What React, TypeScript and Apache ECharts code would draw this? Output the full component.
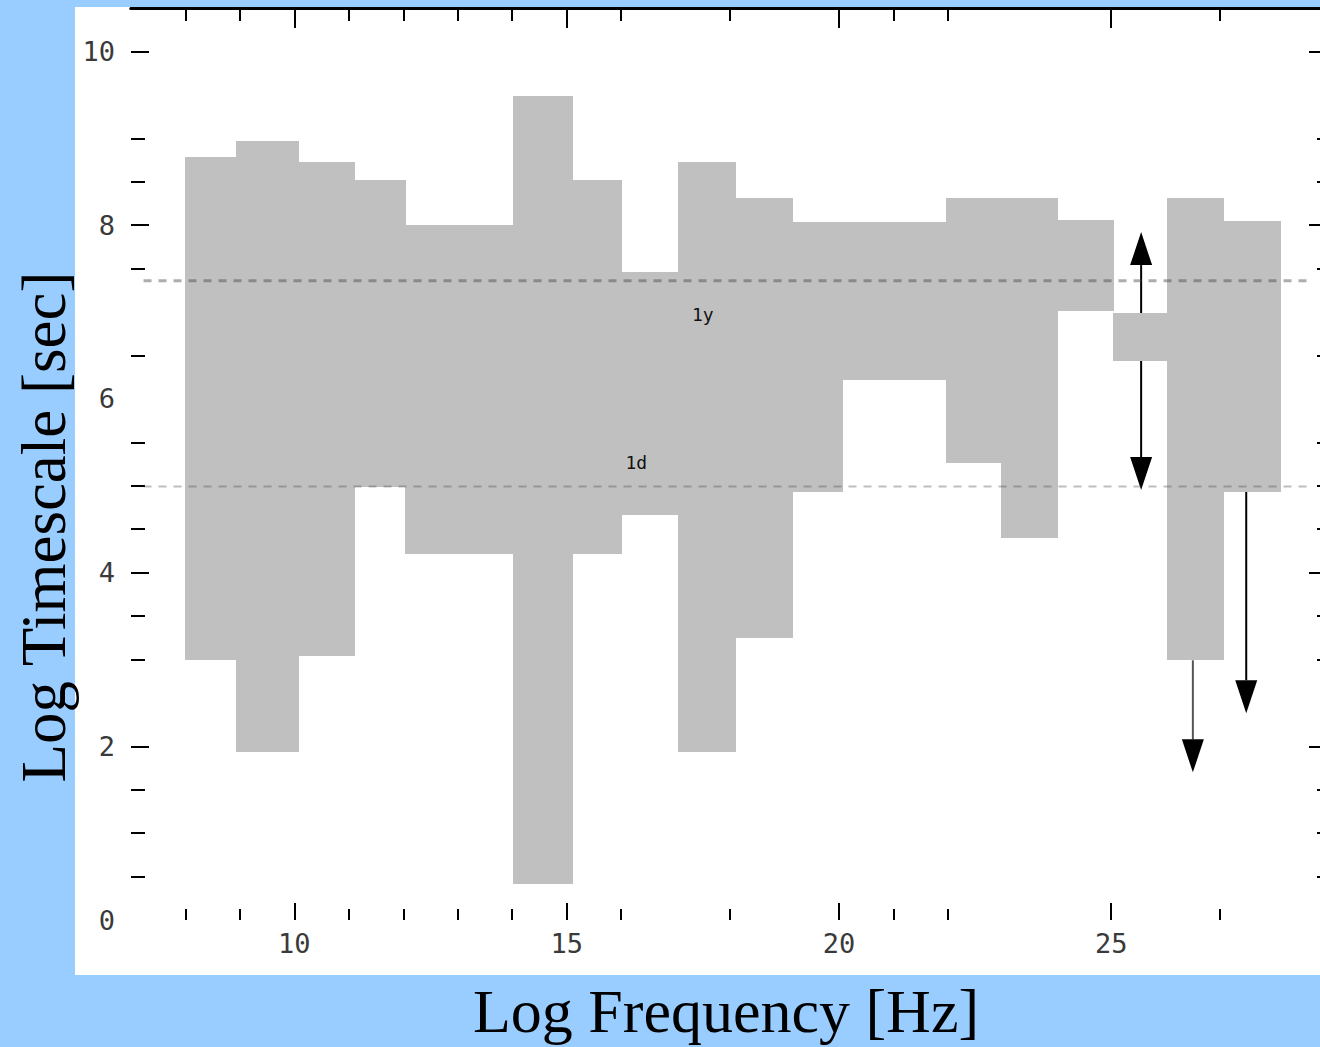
import React, { useEffect, useRef } from "react";
import * as echarts from "echarts";

// Band columns (log frequency extent and log timescale extent)
const colStart = [8.0, 8.92, 10.06, 11.1, 12.04, 14.02, 15.09, 16.0, 17.05, 18.1, 19.14, 20.06, 21.97, 22.98, 24.01, 25.04, 26.03, 27.06];
const colEnd = [8.92, 10.06, 11.1, 12.04, 14.02, 15.09, 16.0, 17.05, 18.1, 19.14, 20.06, 21.97, 22.98, 24.01, 25.04, 26.03, 27.06, 28.1];
const colLow = [2.99, 1.93, 3.04, 4.99, 4.21, 0.41, 4.21, 4.66, 1.93, 3.25, 4.93, 6.22, 5.26, 4.4, 7.01, 6.44, 2.99, 4.93];
const colHigh = [8.78, 8.97, 8.73, 8.52, 8.0, 9.49, 8.52, 7.46, 8.73, 8.31, 8.04, 8.04, 8.31, 8.31, 8.06, 6.99, 8.31, 8.05];

// Reference lines (1 year, 1 day)
const refValues = [7.36, 4.99];
const refFrom = [7.23, 7.23];
const refTo = [28.7, 28.7];
const refLabels = ["1y", "1d"];
const refLabelX = [17.5, 16.28];
const refLabelY = [6.97, 5.27];

// Arrows: x, start, end(tip), double-headed
const arrowX = [25.55, 26.5, 27.48];
const arrowFrom = [7.92, 2.99, 4.93];
const arrowTo = [4.95, 1.7, 2.38];
const arrowDouble = [1, 0, 0];

// Axis ticks / labels
const xMajor = [10, 15, 20, 25];
const xMinor = [8, 9, 11, 12, 13, 14, 16, 18, 21, 22, 27];
const yLabels = [0, 2, 4, 6, 8, 10];
const yMajor = [2, 4, 8, 10];
const yMinor = [0.5, 1, 1.5, 3, 3.5, 4.5, 5, 5.5, 6.5, 7.5, 8.5, 9];

const tickFont = { fontFamily: "DejaVu Sans Mono", fontSize: 27, color: "#3a3a3a" };

function xAxisDef(position: string, ticks: number[], len: number, showLabel: boolean, showLine: boolean) {
  return {
    type: "value",
    position,
    min: 7,
    max: 29,
    splitLine: { show: false },
    axisLine: { show: showLine, onZero: false, lineStyle: { color: "#000", width: 3 } },
    axisTick: { show: true, inside: true, length: len, customValues: ticks, lineStyle: { color: "#000", width: 2 } },
    axisLabel: showLabel ? { show: true, customValues: ticks, margin: 10, ...tickFont } : { show: false },
  };
}

function yAxisDef(position: string, ticks: number[], len: number, labels: number[] | null) {
  return {
    type: "value",
    position,
    min: 0,
    max: 10.5,
    splitLine: { show: false },
    axisLine: { show: false, onZero: false },
    axisTick: { show: true, inside: true, length: len, customValues: ticks, lineStyle: { color: "#000", width: 2 } },
    axisLabel: labels ? { show: true, customValues: labels, margin: 16, ...tickFont } : { show: false },
  };
}

export default function App() {
  const ref = useRef<HTMLDivElement>(null);

  useEffect(() => {
    document.body.style.margin = "0";
    document.body.style.overflow = "hidden";
    if (!ref.current) return;
    const chart = echarts.init(ref.current, null, { renderer: "svg" });

    const bandData = colStart.map((s, i) => [s, colEnd[i], colLow[i], colHigh[i]]);
    const refData = refValues.map((v, i) => [refFrom[i], refTo[i], v]);
    const labelData = refLabelX.map((x, i) => [x, refLabelY[i]]);
    const arrowData = arrowX.map((x, i) => [x, arrowFrom[i], arrowTo[i], arrowDouble[i]]);

    const option: any = {
      animation: false,
      backgroundColor: "#99ccff",
      grid: { left: 131, right: 11, top: 8, bottom: 127, containLabel: false },
      xAxis: [
        xAxisDef("bottom", xMajor, 17, true, false),
        xAxisDef("bottom", xMinor, 11, false, false),
        xAxisDef("top", xMajor, 20, false, true),
        xAxisDef("top", xMinor, 13, false, true),
      ],
      yAxis: [
        yAxisDef("left", yMajor, 18, yLabels),
        yAxisDef("left", yMinor, 14, null),
        yAxisDef("right", yMajor, 20, null),
        yAxisDef("right", yMinor, 12, null),
      ],
      graphic: [
        { type: "rect", z: -10, shape: { x: 75, y: 7, width: 1300, height: 968 }, style: { fill: "#ffffff" } },
        {
          type: "text",
          x: 726,
          y: 1011,
          style: { text: "Log Frequency [Hz]", font: "62px 'Liberation Serif'", fill: "#000", align: "center", verticalAlign: "middle" },
        },
        {
          type: "text",
          x: 44,
          y: 527,
          rotation: Math.PI / 2,
          style: { text: "Log Timescale [sec]", font: "63px 'Liberation Serif'", fill: "#000", align: "center", verticalAlign: "middle" },
        },
      ],
      series: [
        {
          type: "custom",
          name: "arrows",
          z: 1,
          clip: false,
          data: arrowData,
          encode: { x: 0, y: [1, 2] },
          renderItem: (params: any, api: any) => {
            const x = api.value(0);
            const p1 = api.coord([x, api.value(1)]);
            const p2 = api.coord([x, api.value(2)]);
            const dbl = api.value(3) === 1;
            const d = p2[1] > p1[1] ? 1 : -1;
            const hl = 33;
            const hw = 11;
            const color = params.dataIndex === 1 ? "#555" : "#000";
            const children: any[] = [
              {
                type: "line",
                shape: { x1: p1[0], y1: dbl ? p1[1] + d * hl : p1[1], x2: p2[0], y2: p2[1] - d * hl },
                style: { stroke: color, lineWidth: 2 },
              },
              {
                type: "polygon",
                shape: { points: [[p2[0], p2[1]], [p2[0] - hw, p2[1] - d * hl], [p2[0] + hw, p2[1] - d * hl]] },
                style: { fill: "#000" },
              },
            ];
            if (dbl) {
              children.push({
                type: "polygon",
                shape: { points: [[p1[0], p1[1]], [p1[0] - hw, p1[1] + d * hl], [p1[0] + hw, p1[1] + d * hl]] },
                style: { fill: "#000" },
              });
            }
            return { type: "group", children };
          },
        },
        {
          type: "custom",
          name: "bands",
          z: 2,
          data: bandData,
          encode: { x: [0, 1], y: [2, 3] },
          renderItem: (params: any, api: any) => {
            const a = api.coord([api.value(0), api.value(3)]);
            const b = api.coord([api.value(1), api.value(2)]);
            const x0 = Math.round(a[0]);
            const x1 = Math.round(b[0]);
            const y0 = Math.round(a[1]);
            const y1 = Math.round(b[1]);
            return {
              type: "rect",
              shape: { x: x0, y: y0, width: x1 - x0 + 1, height: y1 - y0 },
              style: { fill: "#c0c0c0" },
            };
          },
        },
        {
          type: "custom",
          name: "reference",
          z: 3,
          clip: false,
          data: refData,
          encode: { x: [0, 1], y: 2 },
          renderItem: (params: any, api: any) => {
            const a = api.coord([api.value(0), api.value(2)]);
            const b = api.coord([api.value(1), api.value(2)]);
            const upper = params.dataIndex === 0;
            return {
              type: "line",
              shape: { x1: a[0], y1: a[1], x2: b[0], y2: b[1] },
              style: {
                stroke: upper ? "rgba(70,70,70,0.45)" : "rgba(70,70,70,0.35)",
                lineWidth: upper ? 3 : 2,
                lineDash: [8, 7],
              },
            };
          },
        },
        {
          type: "custom",
          name: "labels",
          z: 4,
          data: labelData,
          encode: { x: 0, y: 1 },
          renderItem: (params: any, api: any) => {
            const p = api.coord([api.value(0), api.value(1)]);
            return {
              type: "text",
              x: p[0],
              y: p[1],
              style: {
                text: refLabels[params.dataIndex],
                font: "18px 'DejaVu Sans Mono'",
                fill: "#111",
                align: "center",
                verticalAlign: "middle",
              },
            };
          },
        },
      ],
    };

    chart.setOption(option);
    return () => chart.dispose();
  }, []);

  return (
    <div style={{ width: 1320, height: 1047, overflow: "hidden", background: "#99ccff", position: "relative" }}>
      <div ref={ref} style={{ width: 1340, height: 1047 }} />
    </div>
  );
}
